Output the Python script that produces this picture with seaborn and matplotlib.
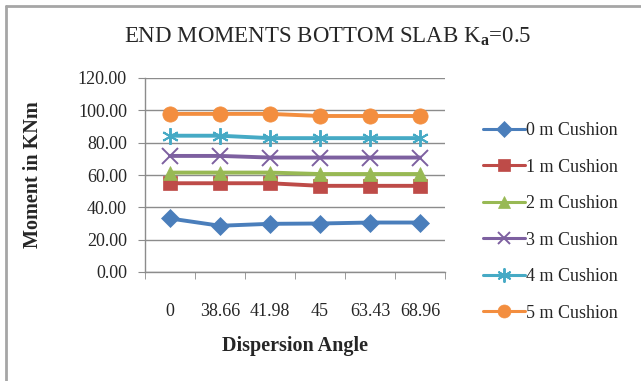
import pandas as pd
import numpy as np
import matplotlib
matplotlib.use("Agg")
import matplotlib.pyplot as plt
import seaborn as sns
from matplotlib.lines import Line2D

# Data
angles = ["0", "38.66", "41.98", "45", "63.43", "68.96"]
cushion_0 = [33.1, 28.6, 29.8, 30.0, 30.6, 30.6]
cushion_1 = [54.9, 54.9, 54.9, 53.3, 53.3, 53.3]
cushion_2 = [61.5, 61.5, 61.5, 60.6, 60.6, 60.6]
cushion_3 = [71.8, 71.8, 70.8, 70.8, 70.8, 70.8]
cushion_4 = [84.3, 84.3, 82.8, 82.8, 82.8, 82.8]
cushion_5 = [97.8, 97.8, 97.8, 96.5, 96.5, 96.5]
series_names = ["0 m Cushion", "1 m Cushion", "2 m Cushion",
                "3 m Cushion", "4 m Cushion", "5 m Cushion"]
y_ticks = [0, 20, 40, 60, 80, 100, 120]

all_values = [cushion_0, cushion_1, cushion_2, cushion_3, cushion_4, cushion_5]

sns.set_style("white")
plt.rcParams["font.family"] = ["Liberation Serif", "DejaVu Serif"]
plt.rcParams["mathtext.fontset"] = "custom"
plt.rcParams["mathtext.rm"] = "Liberation Serif"
plt.rcParams["mathtext.bf"] = "Liberation Serif:bold"

colors = ["#4A7EBB", "#BE4B48", "#98B954", "#7D60A0", "#46AAC5", "#F38E3F"]
markers = ["D", "s", "^", "x", (6, 2, 0), "o"]
marker_sizes = [9, 10, 10, 11, 12, 11]

fig = plt.figure(figsize=(6.41, 3.81), dpi=100)
ax = fig.add_axes([145 / 641, 1 - 272 / 381, 300 / 641, 194 / 381])

x_pos = np.arange(len(angles))
for name, vals, c, m, ms in zip(series_names, all_values, colors, markers, marker_sizes):
    sns.lineplot(x=x_pos, y=vals, color=c, marker=m, markersize=ms,
                 markeredgecolor=c, markerfacecolor=c,
                 markeredgewidth=1.4 if m in ("x", (6, 2, 0)) else 0.5,
                 linewidth=2.8, label=name, ax=ax)

ax.set_ylim(0, 120)
ax.set_yticks(y_ticks)
ax.set_yticklabels(["%.2f" % t for t in y_ticks])
ax.set_xlim(-0.5, 5.5)
ax.set_xticks(x_pos)
ax.set_xticklabels(angles)
ax.set_xticks(np.arange(-0.5, 6, 1), minor=True)

ax.grid(axis="y", color="#8c8c8c", linewidth=1)
ax.set_axisbelow(True)
for s in ["top", "right"]:
    ax.spines[s].set_visible(False)
for s in ["left", "bottom"]:
    ax.spines[s].set_color("#8c8c8c")
    ax.spines[s].set_linewidth(1)

ax.tick_params(axis="y", which="major", left=True, length=5, color="#8c8c8c",
               labelsize=13, pad=8)
ax.tick_params(axis="x", which="major", bottom=False, length=0, labelsize=13, pad=22)
ax.tick_params(axis="x", which="minor", bottom=True, length=5, color="#8c8c8c")

ax.set_xlabel("Dispersion Angle", fontsize=14.5, fontweight="bold", labelpad=12)
ax.set_ylabel("Moment in KNm", fontsize=14.5, fontweight="bold")
ax.yaxis.set_label_coords(-(145 - 43) / 300, 0.5)

fig.text(328 / 641, 1 - 37 / 381, r"END MOMENTS BOTTOM SLAB K$_\mathbf{a}$=0.5",
         ha="center", va="center", fontsize=16.5)

# legend on the right
handles, labels = ax.get_legend_handles_labels()
ax.get_legend().remove()
leg = fig.legend(handles, labels, loc="upper left",
                 bbox_to_anchor=(474 / 641, 1 - 113 / 381),
                 frameon=False, fontsize=13, handlelength=2.3,
                 handletextpad=0.1, labelspacing=1.08, borderpad=0)
for h, ms in zip(leg.legend_handles, marker_sizes):
    h.set_linewidth(2.2)
    h.set_markersize(ms * 0.85)

# chart border (only top and left visible)
fig.add_artist(Line2D([6 / 641, 1], [1 - 6 / 381, 1 - 6 / 381],
                      transform=fig.transFigure, color="#a6a6a6", linewidth=2))
fig.add_artist(Line2D([6 / 641, 6 / 641], [0, 1 - 6 / 381],
                      transform=fig.transFigure, color="#a6a6a6", linewidth=2))

fig.savefig("out.png", dpi=100, facecolor="white")
